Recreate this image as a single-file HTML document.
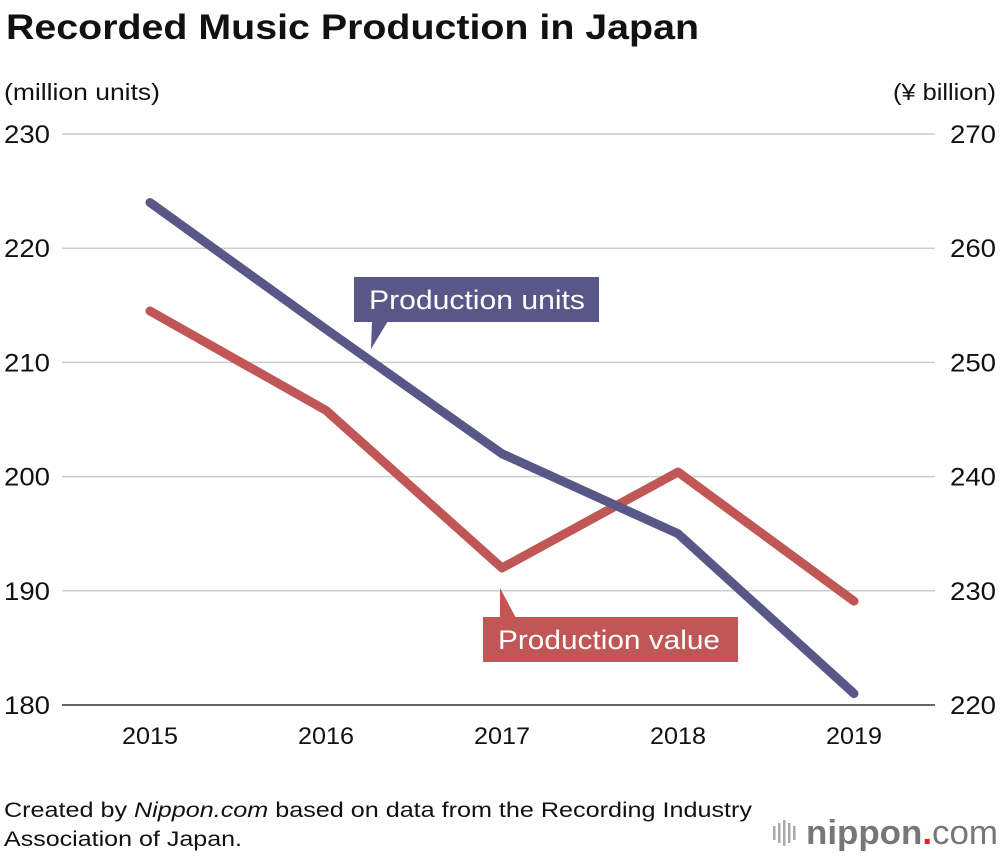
<!DOCTYPE html>
<html><head><meta charset="utf-8"><style>
body{margin:0;background:#fff;font-family:"Liberation Sans",sans-serif;}
svg text{font-family:"Liberation Sans",sans-serif;}
</style></head><body>
<svg id="c" width="1000" height="856" viewBox="0 0 1000 856" xmlns="http://www.w3.org/2000/svg">
<text x="6" y="39" font-size="35" font-weight="bold" fill="#111" textLength="693" lengthAdjust="spacingAndGlyphs">Recorded Music Production in Japan</text>
<text x="4" y="100" font-size="23" fill="#111" textLength="156" lengthAdjust="spacingAndGlyphs">(million units)</text>
<text x="996" y="100" font-size="23" fill="#111" text-anchor="end" textLength="103" lengthAdjust="spacingAndGlyphs">(¥ billion)</text>
<g id="grid"></g><g id="lines"></g>
<g>
<rect x="354" y="277" width="245" height="45" fill="#595787"/>
<polygon points="372,321 388,321 371,349" fill="#595787"/>
<text x="369" y="309" font-size="27" fill="#fff" textLength="216" lengthAdjust="spacingAndGlyphs">Production units</text></g>
<g>
<rect x="483" y="617" width="255" height="45" fill="#c05756"/>
<polygon points="500,618 516,618 500,588" fill="#c05756"/>
<text x="498" y="649" font-size="27" fill="#fff" textLength="222" lengthAdjust="spacingAndGlyphs">Production value</text></g>
<text x="4" y="817" font-size="21" fill="#111" textLength="748" lengthAdjust="spacingAndGlyphs">Created by <tspan font-style="italic">Nippon.com</tspan> based on data from the Recording Industry</text>
<text x="4" y="846" font-size="21" fill="#111" textLength="238" lengthAdjust="spacingAndGlyphs">Association of Japan.</text>
<g>
<g fill="#aaa"><rect x="773" y="826" width="2.5" height="14"/><rect x="778" y="823" width="2.5" height="20"/><rect x="783" y="820" width="2.5" height="26"/><rect x="788" y="823" width="2.5" height="20"/><rect x="793" y="826" width="2.5" height="14"/></g>
<text x="806" y="844" font-size="34" font-weight="bold" fill="#777" textLength="192" lengthAdjust="spacingAndGlyphs">nippon<tspan fill="#e62020">.</tspan><tspan font-weight="normal">com</tspan></text></g>
</svg>
<script>
const years=["2015","2016","2017","2018","2019"];
const units=[224,212.9,202,195,181];
const value=[254.5,245.8,232,240.4,229.1];
const leftTicks=[180,190,200,210,220,230];
const rightTicks=[220,230,240,250,260,270];
const NS="http://www.w3.org/2000/svg";
const yL=v=>705-(v-180)*(571/50);
const yR=v=>705-(v-220)*(571/50);
const x=i=>150+i*176;
const g=document.getElementById('grid'),L=document.getElementById('lines');
function mk(t,a,p){const e=document.createElementNS(NS,t);for(const k in a)e.setAttribute(k,a[k]);p.appendChild(e);return e;}
leftTicks.forEach((v,i)=>{
 const ln=mk('line',{x1:62,x2:935,y1:yL(v),y2:yL(v),stroke:i==0?'#333':'#ccc','stroke-width':1.5},g);
 
 
 const t=mk('text',{x:4,y:yL(v)+9,'font-size':25,fill:'#111',textLength:46,lengthAdjust:'spacingAndGlyphs'},g);t.textContent=v;
 
 
});
rightTicks.forEach(v=>{
 const t=mk('text',{x:996,y:yR(v)+9,'font-size':25,fill:'#111','text-anchor':'end',textLength:46,lengthAdjust:'spacingAndGlyphs'},g);t.textContent=v;
 
 
});
years.forEach((y,i)=>{
 const t=mk('text',{x:x(i),y:744,'font-size':24,fill:'#111','text-anchor':'middle',textLength:56,lengthAdjust:'spacingAndGlyphs'},g);t.textContent=y;
 
 
});
const pv=mk('polyline',{points:value.map((v,i)=>x(i)+','+yR(v)).join(' '),fill:'none',stroke:'#c05756','stroke-width':9,'stroke-linecap':'round','stroke-linejoin':'round'},L);


const pu=mk('polyline',{points:units.map((v,i)=>x(i)+','+yL(v)).join(' '),fill:'none',stroke:'#595787','stroke-width':9,'stroke-linecap':'round','stroke-linejoin':'round'},L);


</script>
</body></html>
